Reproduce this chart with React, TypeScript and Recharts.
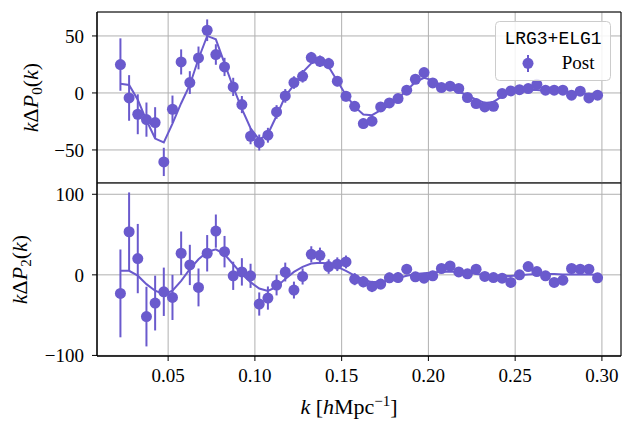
import {
  ComposedChart,
  Scatter,
  Line,
  ErrorBar,
  XAxis,
  YAxis,
  CartesianGrid,
  ReferenceArea,
  Legend,
} from "recharts";

const COLOR = "#6a5acd";
const SERIF = '"Liberation Serif", "Times New Roman", serif';
const MONO = '"Liberation Mono", "Courier New", monospace';

// k bin centres [h/Mpc]
const kValues = [
  0.0225, 0.0275, 0.0325, 0.0375, 0.0425, 0.0475, 0.0525, 0.0575, 0.0625, 0.0675,
  0.0725, 0.0775, 0.0825, 0.0875, 0.0925, 0.0975, 0.1025, 0.1075, 0.1125, 0.1175,
  0.1225, 0.1275, 0.1325, 0.1375, 0.1425, 0.1475, 0.1525, 0.1575, 0.1625, 0.1675,
  0.1725, 0.1775, 0.1825, 0.1875, 0.1925, 0.1975, 0.2025, 0.2075, 0.2125, 0.2175,
  0.2225, 0.2275, 0.2325, 0.2375, 0.2425, 0.2475, 0.2525, 0.2575, 0.2625, 0.2675,
  0.2725, 0.2775, 0.2825, 0.2875, 0.2925, 0.2975,
];

// monopole k*dP0
const p0 = [
  24.9, -4.4, -18.7, -23.4, -26, -60.5, -14.3, 27.2, 9.1, 30.7,
  55, 33.7, 22.8, 5.3, -10.2, -38, -43.5, -37.1, -16.7, -2.6,
  9.1, 14.6, 31, 27.8, 25.8, 10.3, -2.9, -11.7, -26.9, -24.8,
  -12.3, -8.8, -4.9, 2.4, 12, 17.9, 8.8, 4.7, 5.9, 3.9,
  -4, -9.3, -12.3, -11.7, -0.6, 1.8, 2.9, 3.8, 7.6, 2.4,
  2.4, 2.4, -2, 1.5, -4.4, -2,
];
const p0Err = [
  23, 20, 17.5, 15, 13.5, 12.4, 12, 11, 10, 10,
  9.5, 9, 8, 8, 7.5, 7, 7, 6.5, 6, 6,
  5.5, 5.5, 5, 5, 5, 4.5, 4.5, 4.5, 4.5, 4,
  4, 4, 4, 4, 4, 4, 3.5, 3.5, 3.5, 3.5,
  3.5, 3.5, 3.5, 3.5, 3, 3, 3, 3, 3, 3,
  3, 3, 3, 3, 3, 3,
];
const p0Model = [
  8, 7, -6, -24, -40, -43.5, -27, -9, 7, 30,
  50, 47, 26, 5, -14, -31, -41, -36, -20, -3,
  7, 18, 26, 28, 23, 10.5, -2, -12, -19, -19.5,
  -15, -11, -5, 2.4, 9.6, 13.2, 11, 6.7, 3.8, 1,
  -2, -5.8, -8.8, -7.9, -2.9, 1, 2, 2.5, 2.5, 2,
  1.5, 1, 0, -0.5, -1, -1,
];

// quadrupole k*dP2
const p2 = [
  -23, 53.5, 20.2, -51.8, -35, -21, -28, 26.8, 12.3, -15.6,
  26.8, 54.3, 28.8, -1.2, 3.7, -1.2, -36.2, -28.8, -12.7, 3.5,
  -18.9, -2, 25.5, 24.3, 10.3, 13.2, 16, -5.3, -8.6, -14.4,
  -11.5, -3.7, -3.3, 7, -2.5, -4.1, -1.2, 7.9, 11, 3.7,
  1.3, 7, -2, -3.3, -4.1, -9.4, 0, 10.3, 4.1, -1.2,
  -9.4, -6.6, 7.9, 7, 7, -3.7,
];
const p2Err = [
  54.5, 48.8, 43, 37, 34, 30, 28, 27, 25, 23.5,
  22.6, 20.6, 19.5, 17.5, 17, 15, 14.4, 14.4, 12.8, 11.7,
  10.5, 10, 10, 9.5, 9, 8.5, 8, 7.5, 7, 7,
  6.5, 6.5, 6.5, 6, 6, 6, 6, 5.5, 5.5, 5.5,
  5.5, 5, 5, 5, 5, 5, 5, 4.5, 4.5, 4.5,
  4.5, 4.5, 4.5, 4.5, 4.5, 4.5,
];
const p2Model = [
  5, 5, -1, -11.5, -19.7, -24, -19.7, -7.4, 7, 19.4,
  28.4, 31.7, 25.5, 13.2, 0.9, -9, -17, -20, -15, -5,
  3.7, 10, 14, 15, 14, 10, 5, -1, -6, -9,
  -9, -7, -4, -1, 1, 2, 3, 4, 4, 4,
  3.5, 1, 0, -1, -1.5, -1.5, -0.5, 0.5, 1, 1,
  1, 0.5, 0.5, 0.5, 0.5, 0,
];

const xTicks = [0.05, 0.1, 0.15, 0.2, 0.25, 0.3];
const xDomain = [0.009, 0.311];
const p0Ticks = [-50, 0, 50];
const p0Domain = [-79, 71];
const p2Ticks = [-100, 0, 100];
const p2Domain = [-100.7, 114];

const monoRows = kValues.map((k, i) => ({ k, v: p0[i], e: p0Err[i], m: p0Model[i] }));
const quadRows = kValues.map((k, i) => ({ k, v: p2[i], e: p2Err[i], m: p2Model[i] }));

const tickStyle = { fill: "#000", fontSize: 19, fontFamily: SERIF };
const fmtX = (v: number) => v.toFixed(2);
const fmtY = (v: number) => String(v).replace("-", "\u2212");

const dot = (p: any) => <circle cx={p.cx} cy={p.cy} r={5.5} fill={COLOR} />;

function YLabel(props: any) {
  const vb = props.viewBox || {};
  const cy = vb.y !== undefined ? vb.y + vb.height / 2 : props.fy;
  return (
    <text
      transform={`translate(${props.bx},${cy}) rotate(-90)`}
      textAnchor="middle"
      fontFamily={SERIF}
      fontSize={22}
      fill="#000"
    >
      <tspan fontStyle="italic">k</tspan>
      <tspan>Δ</tspan>
      <tspan fontStyle="italic">P</tspan>
      <tspan fontSize={15} dy={4}>{props.sub}</tspan>
      <tspan dy={-4}>(</tspan>
      <tspan fontStyle="italic">k</tspan>
      <tspan>)</tspan>
    </text>
  );
}

function XLabel(props: any) {
  const vb = props.viewBox || { x: 97, y: 183, width: 524 };
  const cx = vb.x + vb.width / 2 - 10;
  return (
    <text x={cx} y={vb.y + 58} textAnchor="middle" fontFamily={SERIF} fontSize={22} fill="#000">
      <tspan fontStyle="italic">k</tspan> [<tspan fontStyle="italic">h</tspan>Mpc
      <tspan fontSize={15} dy={-8}>−1</tspan>
      <tspan dy={8}>]</tspan>
    </text>
  );
}

function LegendBox(props: any) {
  const items = (props.payload || []).filter((p: any) => p.type !== "none");
  const name = items.length ? items[0].value : "Post";
  return (
    <svg width={116} height={60} style={{ display: "block" }}>
      <rect x={0.5} y={0.5} width={115} height={59} rx={4} fill="rgba(255,255,255,0.85)" stroke="#cccccc" />
      <text x={58} y={22.5} textAnchor="middle" fontFamily={MONO} fontSize={18} fill="#000">
        LRG3+ELG1
      </text>
      <line x1={33} x2={33} y1={34} y2={51} stroke={COLOR} strokeWidth={2} />
      <circle cx={33} cy={42.3} r={5.5} fill={COLOR} />
      <text x={66.7} y={48.3} fontFamily={SERIF} fontSize={19} fill="#000">
        {name}
      </text>
    </svg>
  );
}

export default function App() {
  return (
    <div style={{ position: "relative", width: 632, height: 430, background: "#fff" }}>
      <style>{"body{margin:0}"}</style>

      <div style={{ position: "absolute", left: 0, top: 173 }}>
        <ComposedChart width={632} height={257} data={quadRows} margin={{ top: 10, right: 11, bottom: 0, left: 0 }}>
          <CartesianGrid stroke="#b0b0b0" strokeWidth={1} />
          <XAxis
            dataKey="k"
            type="number"
            domain={xDomain}
            ticks={xTicks}
            allowDataOverflow
            height={74}
            tickSize={5}
            tickMargin={8}
            tick={tickStyle}
            tickFormatter={fmtX}
            stroke="#000"
            label={<XLabel />}
          />
          <YAxis
            type="number"
            domain={p2Domain}
            ticks={p2Ticks}
            allowDataOverflow
            width={97}
            tickSize={5}
            tickMargin={8}
            tick={tickStyle}
            tickFormatter={fmtY}
            stroke="#000"
            label={<YLabel sub="2" bx={27} fy={96.5} />}
          />
          <ReferenceArea x1={xDomain[0]} x2={xDomain[1]} y1={p2Domain[0]} y2={p2Domain[1]} fill="none" stroke="#000" />
          <Line
            type="linear"
            dataKey="m"
            stroke={COLOR}
            strokeWidth={2}
            dot={false}
            legendType="none"
            isAnimationActive={false}
          />
          <Scatter dataKey="v" name="Post" fill={COLOR} shape={dot} isAnimationActive={false}>
            <ErrorBar dataKey="e" direction="y" width={0} stroke={COLOR} strokeWidth={2} />
          </Scatter>
        </ComposedChart>
      </div>

      <div style={{ position: "absolute", left: 0, top: 0 }}>
        <ComposedChart width={632} height={183} data={monoRows} margin={{ top: 12, right: 11, bottom: 0, left: 0 }}>
          <CartesianGrid stroke="#b0b0b0" strokeWidth={1} />
          <XAxis dataKey="k" type="number" domain={xDomain} ticks={xTicks} allowDataOverflow hide />
          <YAxis
            type="number"
            domain={p0Domain}
            ticks={p0Ticks}
            allowDataOverflow
            width={97}
            tickSize={5}
            tickMargin={8}
            tick={tickStyle}
            tickFormatter={fmtY}
            stroke="#000"
            label={<YLabel sub="0" bx={38} fy={97.5} />}
          />
          <ReferenceArea x1={xDomain[0]} x2={xDomain[1]} y1={p0Domain[0]} y2={p0Domain[1]} fill="none" stroke="#000" />
          <Line
            type="linear"
            dataKey="m"
            stroke={COLOR}
            strokeWidth={2}
            dot={false}
            legendType="none"
            isAnimationActive={false}
          />
          <Scatter dataKey="v" name="Post" fill={COLOR} shape={dot} isAnimationActive={false}>
            <ErrorBar dataKey="e" direction="y" width={0} stroke={COLOR} strokeWidth={2} />
          </Scatter>
          <Legend
            layout="vertical"
            align="center"
            verticalAlign="middle"
            wrapperStyle={{ left: 495, top: 21, width: 116, height: 60, lineHeight: 0 }}
            content={<LegendBox />}
          />
        </ComposedChart>
      </div>
    </div>
  );
}
